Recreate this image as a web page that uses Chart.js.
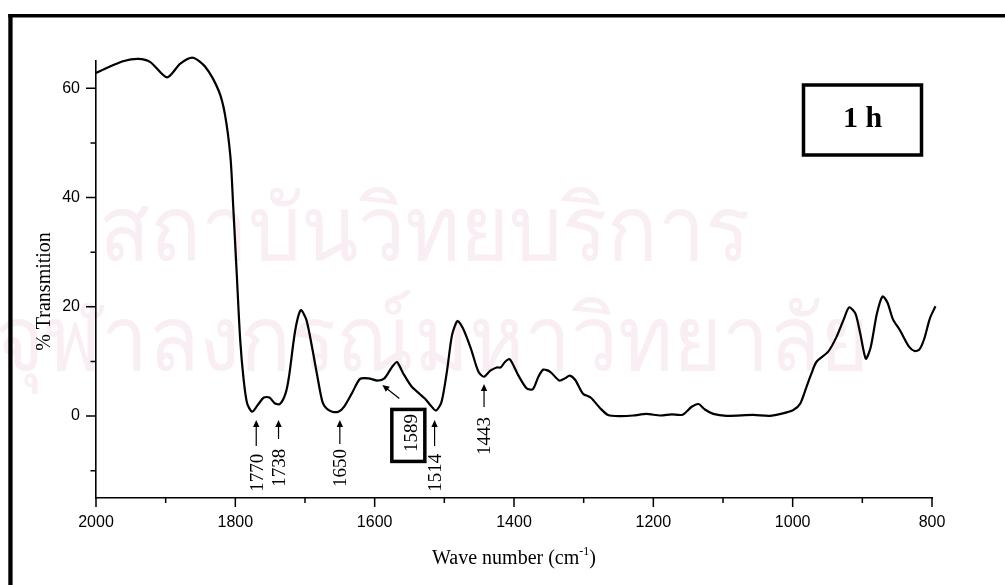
<!DOCTYPE html>
<html>
<head>
<meta charset="utf-8">
<script src="https://cdn.jsdelivr.net/npm/chart.js@4.4.1/dist/chart.umd.min.js"></script>
<style>
  html, body { margin: 0; padding: 0; background: #fff; }
  #wrap { width: 1005px; height: 585px; position: relative; }
</style>
</head>
<body>
<div id="wrap"><canvas id="ir" width="1005" height="585"></canvas></div>
<script>
// FT-IR spectrum, 1 h sample: wave number (cm-1) vs % transmission
const wavenumbers = [
  2000, 1987, 1960, 1939, 1922, 1898, 1879, 1861, 1843, 1824, 1815, 1807, 1803, 1798,
  1793, 1788, 1783, 1776, 1768, 1759, 1751, 1743, 1736, 1728, 1723, 1714, 1706, 1698,
  1690, 1683, 1675, 1669, 1661, 1652, 1644, 1633, 1621, 1609, 1596, 1586, 1575, 1568,
  1559, 1547, 1535, 1528, 1520, 1512, 1504, 1496, 1489, 1481, 1473, 1462, 1451, 1443,
  1434, 1425, 1419, 1413, 1406, 1394, 1382, 1373, 1365, 1358, 1348, 1335, 1327, 1320,
  1312, 1301, 1290, 1276, 1265, 1248, 1229, 1210, 1190, 1174, 1158, 1145, 1135, 1126,
  1114, 1095, 1057, 1033, 1014, 999, 989, 980, 973, 966, 949, 937, 927, 919, 910, 903,
  895, 888, 879, 871, 864, 856, 846, 833, 825, 818, 811, 803, 795
];
const transmission = [
  62.8, 63.6, 65.0, 65.4, 64.8, 62.0, 64.5, 65.6, 63.9, 59.6, 55.3, 47.4, 38.3, 26.1,
  13.9, 6.6, 2.3, 0.8, 2.0, 3.4, 3.4, 2.3, 2.2, 4.1, 7.2, 15.7, 19.4, 17.6,
  12.7, 7.8, 2.6, 1.4, 0.8, 0.8, 1.7, 4.1, 6.8, 6.9, 6.5, 6.9, 9.0, 9.9,
  7.8, 5.4, 4.0, 3.2, 2.0, 1.0, 2.6, 8.4, 14.8, 17.4, 16.0, 12.4, 8.1, 7.2,
  8.3, 8.9, 8.9, 9.9, 10.4, 7.5, 5.1, 4.9, 7.2, 8.5, 8.1, 6.5, 6.9, 7.4,
  6.6, 4.1, 3.4, 1.4, 0.2, 0.0, 0.1, 0.4, 0.1, 0.3, 0.25, 1.7, 2.2, 1.2,
  0.4, 0.05, 0.2, 0.05, 0.5, 1.1, 2.3, 5.4, 7.8, 9.9, 11.8, 14.5, 17.6, 19.9, 18.8, 15.1,
  10.5, 12.6, 18.8, 21.9, 20.8, 17.7, 15.7, 12.7, 11.9, 12.2, 14.2, 17.9, 20.1
];

// axis ticks
const xMajorTicks = [2000, 1800, 1600, 1400, 1200, 1000, 800];
const xMinorTicks = [1900, 1700, 1500, 1300, 1100, 900];
const yMajorTicks = [0, 20, 40, 60];
const yMinorTicks = [-10, 10, 30, 50];

// assigned bands marked under the trace
const bandLabels = ['1770', '1738', '1650', '1514', '1443'];
const bandPositions = [1770, 1738, 1650, 1514, 1443];
const boxedBandLabel = '1589';
const boxedBandPosition = 1589;
const sampleLabel = '1 h';

// page watermark lines
const watermarkLines = ['สถาบันวิทยบริการ', 'จุฬาลงกรณ์มหาวิทยาลัย'];

const SERIF = "'Liberation Serif', 'Times New Roman', Times, serif";
const SANS = "'Liberation Sans', Arial, Helvetica, sans-serif";

// arrow / label geometry for the band marks (pixels)
const bandStyle = {
  '1770': { head: 420, tail: 446, textBottom: 491.7 },
  '1738': { head: 420, tail: 439, textBottom: 486.7 },
  '1650': { head: 420, tail: 444, textBottom: 487 },
  '1514': { head: 420, tail: 446, textBottom: 491.7 },
  '1443': { head: 384, tail: 407, textBottom: 455 }
};

function arrow(ctx, x0, y0, x1, y1) {
  // line from (x0,y0) to head (x1,y1)
  const ang = Math.atan2(y1 - y0, x1 - x0);
  const hl = 7, hw = 3.2;
  ctx.beginPath();
  ctx.moveTo(x0, y0);
  ctx.lineTo(x1 - Math.cos(ang) * (hl - 1), y1 - Math.sin(ang) * (hl - 1));
  ctx.lineWidth = 1.2;
  ctx.stroke();
  ctx.beginPath();
  ctx.moveTo(x1, y1);
  ctx.lineTo(x1 - Math.cos(ang) * hl - Math.sin(ang) * hw, y1 - Math.sin(ang) * hl + Math.cos(ang) * hw);
  ctx.lineTo(x1 - Math.cos(ang) * hl + Math.sin(ang) * hw, y1 - Math.sin(ang) * hl - Math.cos(ang) * hw);
  ctx.closePath();
  ctx.fill();
}

function verticalText(ctx, text, cx, yBottom, size) {
  ctx.save();
  ctx.font = size + 'px ' + SERIF;
  ctx.translate(cx + size * 0.33, yBottom);
  ctx.rotate(-Math.PI / 2);
  ctx.textAlign = 'left';
  ctx.textBaseline = 'alphabetic';
  ctx.fillText(text, 0, 0);
  ctx.restore();
}

function watermark(ctx, text, cx, baseline) {
  ctx.save();
  ctx.translate(cx, baseline);
  ctx.scale(1, 1.08);
  ctx.font = "84px 'Noto Sans', 'DejaVu Sans', sans-serif";
  ctx.textAlign = 'center';
  ctx.textBaseline = 'alphabetic';
  ctx.fillText(text, 0, 0);
  ctx.restore();
}

const pagePlugin = {
  id: 'page',
  beforeDraw(chart) {
    const ctx = chart.ctx;
    ctx.save();
    ctx.fillStyle = '#fff';
    ctx.fillRect(0, 0, chart.width, chart.height);
    // faint institutional watermark
    ctx.fillStyle = '#f9eef3';
    watermark(ctx, watermarkLines[0], 424, 260);
    watermark(ctx, watermarkLines[1], 432, 370);
    // page frame
    ctx.fillStyle = '#000';
    ctx.fillRect(8.3, 14, 1005, 3.5);
    ctx.fillRect(8.3, 14, 4.3, 585);
    ctx.restore();
  },
  afterDraw(chart) {
    const ctx = chart.ctx;
    const xs = chart.scales.x, ys = chart.scales.y;
    const ca = chart.chartArea;
    ctx.save();
    ctx.strokeStyle = '#000';
    ctx.fillStyle = '#000';
    ctx.lineWidth = 1.5;
    // tick marks, pointing outward
    ctx.beginPath();
    xMajorTicks.forEach(v => { const p = xs.getPixelForValue(v); ctx.moveTo(p, ca.bottom); ctx.lineTo(p, ca.bottom + 9); });
    xMinorTicks.forEach(v => { const p = xs.getPixelForValue(v); ctx.moveTo(p, ca.bottom); ctx.lineTo(p, ca.bottom + 5); });
    yMajorTicks.forEach(v => { const p = ys.getPixelForValue(v); ctx.moveTo(ca.left, p); ctx.lineTo(ca.left - 10, p); });
    yMinorTicks.forEach(v => { const p = ys.getPixelForValue(v); ctx.moveTo(ca.left, p); ctx.lineTo(ca.left - 5.5, p); });
    ctx.stroke();

    // axis titles
    ctx.textBaseline = 'alphabetic';
    const t1 = 'Wave number (cm', sup = '-1', t2 = ')';
    ctx.font = '20px ' + SERIF;
    const w1 = ctx.measureText(t1).width, w3 = ctx.measureText(t2).width;
    ctx.font = '12px ' + SERIF;
    const w2 = ctx.measureText(sup).width;
    const x0 = 514 - (w1 + w2 + w3) / 2;
    ctx.textAlign = 'left';
    ctx.font = '20px ' + SERIF;
    ctx.fillText(t1, x0, 564);
    ctx.font = '12px ' + SERIF;
    ctx.fillText(sup, x0 + w1, 555);
    ctx.font = '20px ' + SERIF;
    ctx.fillText(t2, x0 + w1 + w2, 564);

    ctx.save();
    ctx.translate(50, 291.5);
    ctx.rotate(-Math.PI / 2);
    ctx.textAlign = 'center';
    ctx.fillText('% Transmition', 0, 0);
    ctx.restore();

    // band arrows and labels
    bandLabels.forEach((lab, i) => {
      const px = xs.getPixelForValue(bandPositions[i]);
      const st = bandStyle[lab];
      arrow(ctx, px, st.tail, px, st.head);
      verticalText(ctx, lab, px, st.textBottom, 19);
    });

    // boxed band with diagonal arrow
    const hx = xs.getPixelForValue(boxedBandPosition);
    const hy = ys.getPixelForValue(5.7);
    arrow(ctx, hx + 17, hy + 13.5, hx, hy);
    ctx.lineWidth = 3.5;
    ctx.strokeRect(hx + 9.5, hy + 24.5, 33, 52);
    verticalText(ctx, boxedBandLabel, hx + 28, hy + 67, 19);

    // sample label box
    ctx.lineWidth = 3.5;
    ctx.strokeRect(803.5, 85, 118, 70);
    ctx.font = 'bold 30px ' + SERIF;
    ctx.textAlign = 'center';
    ctx.textBaseline = 'alphabetic';
    ctx.fillText(sampleLabel, 862.5, 127);
    ctx.restore();
  }
};

const points = wavenumbers.map((w, i) => ({ x: w, y: transmission[i] }));

new Chart(document.getElementById('ir'), {
  type: 'line',
  data: {
    datasets: [{
      data: points,
      borderColor: '#000',
      borderWidth: 2.2,
      pointRadius: 0,
      tension: 0.25,
      fill: false,
      clip: false
    }]
  },
  options: {
    responsive: false,
    animation: false,
    events: [],
    layout: { padding: { left: 0, top: 61, right: 73, bottom: 0 } },
    plugins: { legend: { display: false }, tooltip: { enabled: false }, title: { display: false } },
    scales: {
      x: {
        type: 'linear',
        reverse: true,
        min: 800,
        max: 2000,
        afterFit: s => { s.height = 87; },
        afterBuildTicks: s => { s.ticks = xMajorTicks.map(v => ({ value: v })); },
        ticks: { color: '#000', font: { family: SANS, size: 16 }, padding: 15, maxRotation: 0, autoSkip: false,
                 callback: v => String(v) },
        grid: { display: true, drawOnChartArea: false, drawTicks: false },
        border: { display: true, color: '#000', width: 1.6 }
      },
      y: {
        type: 'linear',
        min: -15,
        max: 65,
        afterFit: s => { s.width = 96; },
        afterBuildTicks: s => { s.ticks = yMajorTicks.map(v => ({ value: v })); },
        ticks: { color: '#000', font: { family: SANS, size: 16 }, padding: 16, autoSkip: false,
                 callback: v => String(v) },
        grid: { display: true, drawOnChartArea: false, drawTicks: false },
        border: { display: true, color: '#000', width: 1.6 }
      }
    }
  },
  plugins: [pagePlugin]
});
</script>
</body>
</html>
